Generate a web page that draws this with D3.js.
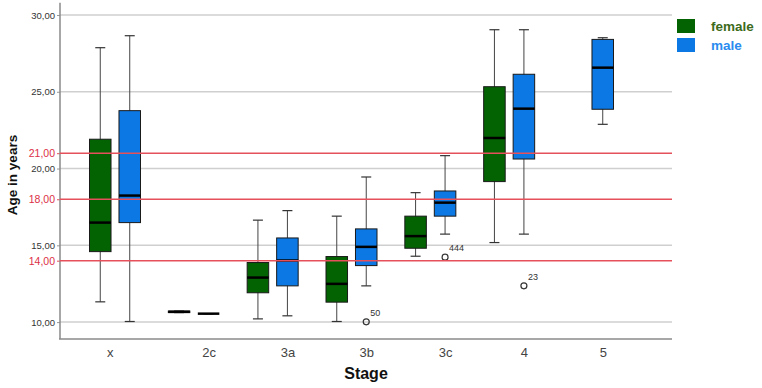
<!DOCTYPE html>
<html>
<head>
<meta charset="utf-8">
<script src="https://cdn.jsdelivr.net/npm/d3@7"></script>
<style>
  body { margin: 0; background: #fff; }
  svg { font-family: "Liberation Sans", Arial, sans-serif; }
</style>
</head>
<body>
<div id="chart"></div>
<script>
// Data: [min, Q1, median, Q3, max] per stage
const stages = ["x", "2c", "3a", "3b", "3c", "4", "5"];
const sexes = ["female", "male"];
const femaleStats = [
    [11.32, 14.59, 16.48, 21.91, 27.87],
    [10.62, 10.62, 10.67, 10.72, 10.72],
    [10.21, 11.91, 12.90, 13.88, 16.64],
    [10.04, 11.30, 12.49, 14.27, 16.90],
    [14.29, 14.81, 15.60, 16.90, 18.43],
    [15.18, 19.15, 21.99, 25.33, 29.04],
    null
];
const maleStats = [
    [10.04, 16.48, 18.24, 23.77, 28.65],
    [10.55, 10.55, 10.55, 10.55, 10.55],
    [10.41, 12.36, 14.01, 15.48, 17.26],
    [12.36, 13.68, 14.90, 16.07, 19.45],
    [15.73, 16.90, 17.78, 18.54, 20.84],
    [15.73, 20.62, 23.90, 26.14, 29.04],
    [22.88, 23.86, 26.57, 28.41, 28.52]
];
const outlierStages = ["3b", "3c", "4"];
const outlierValues = [10.02, 14.23, 12.36];
const outlierLabels = ["50", "444", "23"];
const yTicks = [10, 15, 20, 25, 30];
const refLines = [14, 18, 21];

const width = 762, height = 388;
const plotLeft = 60, plotRight = 672, plotBottom = 339;
const colors = { female: "#036303", male: "#0b78e3" };
const legendColors = { female: "#3c6b1c", male: "#2a8cef" };

const svg = d3.select("#chart")
    .append("svg")
    .attr("width", width)
    .attr("height", height);

// Scales
const y = d3.scaleLinear().domain([8.9, 30.8]).range([plotBottom, 2.7]);
const xStage = d3.scalePoint().domain(stages).range([115, 588]);
const xSex = d3.scaleBand().domain(sexes).range([-25.5, 25.5]).paddingInner(0.27);

const comma = d => d3.format(".2f")(d).replace(".", ",");

// Grid lines
svg.append("g")
    .selectAll("line")
    .data(yTicks)
    .join("line")
    .attr("x1", plotLeft)
    .attr("x2", plotRight)
    .attr("y1", d => y(d))
    .attr("y2", d => y(d))
    .attr("stroke", "#cfcfcf")
    .attr("stroke-width", 1.5);

// Y axis (grey ticks)
const yAxis = svg.append("g")
    .attr("transform", `translate(${plotLeft}, 0)`)
    .call(d3.axisLeft(y).tickValues(yTicks).tickSize(3).tickPadding(2).tickFormat(comma));
yAxis.select(".domain").remove();
yAxis.selectAll(".tick line").attr("stroke", "#999");
yAxis.selectAll(".tick text")
    .style("font-size", "9.5px")
    .attr("fill", "#333");

// Y axis (red reference ticks)
const refAxis = svg.append("g")
    .attr("transform", `translate(${plotLeft}, 0)`)
    .call(d3.axisLeft(y).tickValues(refLines).tickSize(3).tickPadding(2).tickFormat(comma));
refAxis.select(".domain").remove();
refAxis.selectAll(".tick line").attr("stroke", "#e5505a");
refAxis.selectAll(".tick text")
    .style("font-size", "10.5px")
    .attr("fill", "#dc3046");

// Axis frame
svg.append("line")
    .attr("x1", plotLeft).attr("x2", plotLeft)
    .attr("y1", y.range()[1]).attr("y2", plotBottom)
    .attr("stroke", "#8a8a8a").attr("stroke-width", 1.5);
svg.append("line")
    .attr("x1", plotLeft - 1).attr("x2", plotRight)
    .attr("y1", plotBottom).attr("y2", plotBottom)
    .attr("stroke", "#8a8a8a").attr("stroke-width", 1.5);

// Box plots
const series = [
    { sex: "female", stats: femaleStats },
    { sex: "male", stats: maleStats }
];
const boxes = [];
series.forEach(s => {
    s.stats.forEach((st, i) => {
        if (st) boxes.push({ sex: s.sex, stage: stages[i], st });
    });
});

const bw = xSex.bandwidth();
const cx = d => xStage(d.stage) + xSex(d.sex) + bw / 2;

const g = svg.append("g")
    .selectAll("g")
    .data(boxes)
    .join("g");

// whisker stem
g.append("line")
    .attr("x1", cx).attr("x2", cx)
    .attr("y1", d => y(d.st[0]))
    .attr("y2", d => y(d.st[4]))
    .attr("stroke", "#444")
    .attr("stroke-width", 1);

// whisker caps
[0, 4].forEach(k => {
    g.append("line")
        .attr("x1", d => cx(d) - 5).attr("x2", d => cx(d) + 5)
        .attr("y1", d => y(d.st[k])).attr("y2", d => y(d.st[k]))
        .attr("stroke", "#333")
        .attr("stroke-width", 1.2);
});

// box
g.append("rect")
    .attr("x", d => cx(d) - bw / 2)
    .attr("width", bw)
    .attr("y", d => y(d.st[3]))
    .attr("height", d => y(d.st[1]) - y(d.st[3]))
    .attr("fill", d => colors[d.sex])
    .attr("stroke", "#1a1a1a")
    .attr("stroke-width", 1);

// median
g.append("line")
    .attr("x1", d => cx(d) - bw / 2).attr("x2", d => cx(d) + bw / 2)
    .attr("y1", d => y(d.st[2])).attr("y2", d => y(d.st[2]))
    .attr("stroke", "#000")
    .attr("stroke-width", 2.5);

// Outliers (all in the male series)
const outliers = outlierStages.map((s, i) => ({ stage: s, sex: "male", v: outlierValues[i], label: outlierLabels[i] }));
svg.append("g")
    .selectAll("circle")
    .data(outliers)
    .join("circle")
    .attr("cx", cx)
    .attr("cy", d => y(d.v))
    .attr("r", 3)
    .attr("fill", "none")
    .attr("stroke", "#333")
    .attr("stroke-width", 1.2);
svg.append("g")
    .selectAll("text")
    .data(outliers)
    .join("text")
    .attr("x", d => cx(d) + 4)
    .attr("y", d => y(d.v) - 6)
    .style("font-size", "9px")
    .attr("fill", "#333")
    .text(d => d.label);

// Reference lines drawn over the boxes
svg.append("g")
    .selectAll("line")
    .data(refLines)
    .join("line")
    .attr("x1", plotLeft)
    .attr("x2", plotRight)
    .attr("y1", d => y(d))
    .attr("y2", d => y(d))
    .attr("stroke", "#e5505a")
    .attr("stroke-width", 1.5);

// X axis labels sit under the male boxes
const xAxis = svg.append("g")
    .attr("transform", `translate(${xSex("male") + bw / 2}, ${plotBottom})`)
    .call(d3.axisBottom(xStage).tickSize(0).tickPadding(9));
xAxis.select(".domain").remove();
xAxis.selectAll(".tick text")
    .style("font-size", "13px")
    .attr("fill", "#444");
// the "x" label is placed further left in the original
xAxis.selectAll(".tick").filter(d => d === "x")
    .select("text").attr("dx", -20);

// Axis titles
svg.append("text")
    .attr("x", 366)
    .attr("y", 379)
    .style("text-anchor", "middle")
    .style("font-size", "16px")
    .style("font-weight", "bold")
    .attr("fill", "#111")
    .text("Stage");

svg.append("text")
    .attr("transform", "rotate(-90)")
    .attr("x", -175)
    .attr("y", 17)
    .style("text-anchor", "middle")
    .style("font-size", "13.5px")
    .style("font-weight", "bold")
    .attr("fill", "#111")
    .text("Age in years");

// Legend
const legend = svg.append("g")
    .selectAll("g")
    .data(sexes)
    .join("g")
    .attr("transform", (d, i) => `translate(677, ${19 + i * 19})`);
legend.append("rect")
    .attr("width", 18)
    .attr("height", 14)
    .attr("fill", d => colors[d]);
legend.append("text")
    .attr("x", 34)
    .attr("y", 12)
    .style("font-size", "13.5px")
    .style("font-weight", "bold")
    .attr("fill", d => legendColors[d])
    .text(d => d);
</script>
</body>
</html>
